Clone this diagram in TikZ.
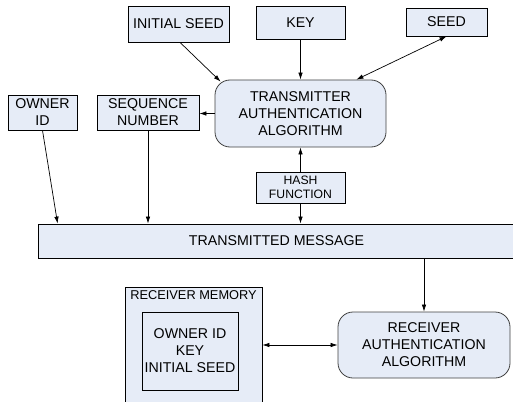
\documentclass[tikz,border=0pt]{standalone}
\usepackage{fontspec}
\setmainfont{Liberation Sans}
\usetikzlibrary{arrows.meta,calc}
\definecolor{boxfill}{HTML}{E6ECF7}
\definecolor{rborder}{HTML}{404040}
\tikzset{
  every node/.style={font=\fontsize{14.2}{17}\selectfont, align=center, inner sep=0pt},
  sqbox/.style={draw=black, fill=boxfill, line width=0.8pt},
  rbox/.style={draw=rborder, fill=boxfill, line width=0.8pt, rounded corners=15pt},
  smalltext/.style={font=\fontsize{12.2}{14.5}\selectfont},
  memtext/.style={font=\fontsize{12.8}{15}\selectfont},
  arr/.style={-{Latex[length=7pt,width=4.5pt]}, line width=0.7pt},
  darr/.style={{Latex[length=7pt,width=4.5pt]}-{Latex[length=7pt,width=4.5pt]}, line width=0.7pt},
}
\begin{document}
\begin{tikzpicture}[x=1pt,y=-1pt]
\useasboundingbox (0,0) rectangle (513,401);
\clip (0,0) rectangle (513,401);
% boxes
\node[sqbox, minimum width=101pt, minimum height=36pt] (iseed) at (178.5,24) {INITIAL SEED};
\node[sqbox, minimum width=89pt, minimum height=33pt] (key) at (300.5,22.5) {KEY};
\node[sqbox, minimum width=81pt, minimum height=28pt] (seed) at (446.5,22) {SEED};
\node[rbox, minimum width=171pt, minimum height=67pt] (tx) at (300.5,113.5) {TRANSMITTER\\AUTHENTICATION\\ALGORITHM};
\node[sqbox, minimum width=69pt, minimum height=35pt] (owner) at (42.5,112.5) {OWNER\\ID};
\node[sqbox, minimum width=102pt, minimum height=35pt] (seq) at (148,112.5) {SEQUENCE\\NUMBER};
\node[sqbox, smalltext, minimum width=89pt, minimum height=31pt] (hash) at (300.5,187.5) {HASH\\FUNCTION};
\node[sqbox, minimum width=477pt, minimum height=34pt] (msg) at (276.5,241) {};
\node (msgtext) at (276.5,241) {TRANSMITTED MESSAGE};
\node[rbox, minimum width=172pt, minimum height=66pt] (rx) at (424,345) {RECEIVER\\AUTHENTICATION\\ALGORITHM};
\node[sqbox, minimum width=137pt, minimum height=123pt] (mem) at (193.5,348.5) {};
\node[memtext] (memlabel) at (193.5,295.5) {RECEIVER MEMORY};
\node[sqbox, minimum width=96pt, minimum height=78pt] (inner) at (190,351) {OWNER ID\\KEY\\INITIAL SEED};
% helper coordinates
\coordinate (txcorner) at ($(tx.north west)+(6,2)$);
\coordinate (txseed) at ($(tx.north east)+(-30,0)$);
\coordinate (msgowner) at ($(msg.north west)+(20,0)$);
\coordinate (iseedout) at ($(iseed.south)+(1.5,0)$);
% connectors
\draw[arr] (iseedout) -- (txcorner);
\draw[arr] (key.south) -- (tx.north);
\draw[darr] (seed.south) -- (txseed);
\draw[arr] (tx.west) -- (seq.east |- tx.west);
\draw[arr] (hash.north) -- (tx.south);
\draw[arr] (hash.south) -- (hash.south |- msg.north);
\draw[arr] (owner.south) -- (msgowner);
\draw[arr] (seq.south) -- (seq.south |- msg.north);
\draw[arr] (rx.north |- msg.south) -- (rx.north);
\draw[darr] (mem.east |- rx.west) -- (rx.west);
\end{tikzpicture}
\end{document}
